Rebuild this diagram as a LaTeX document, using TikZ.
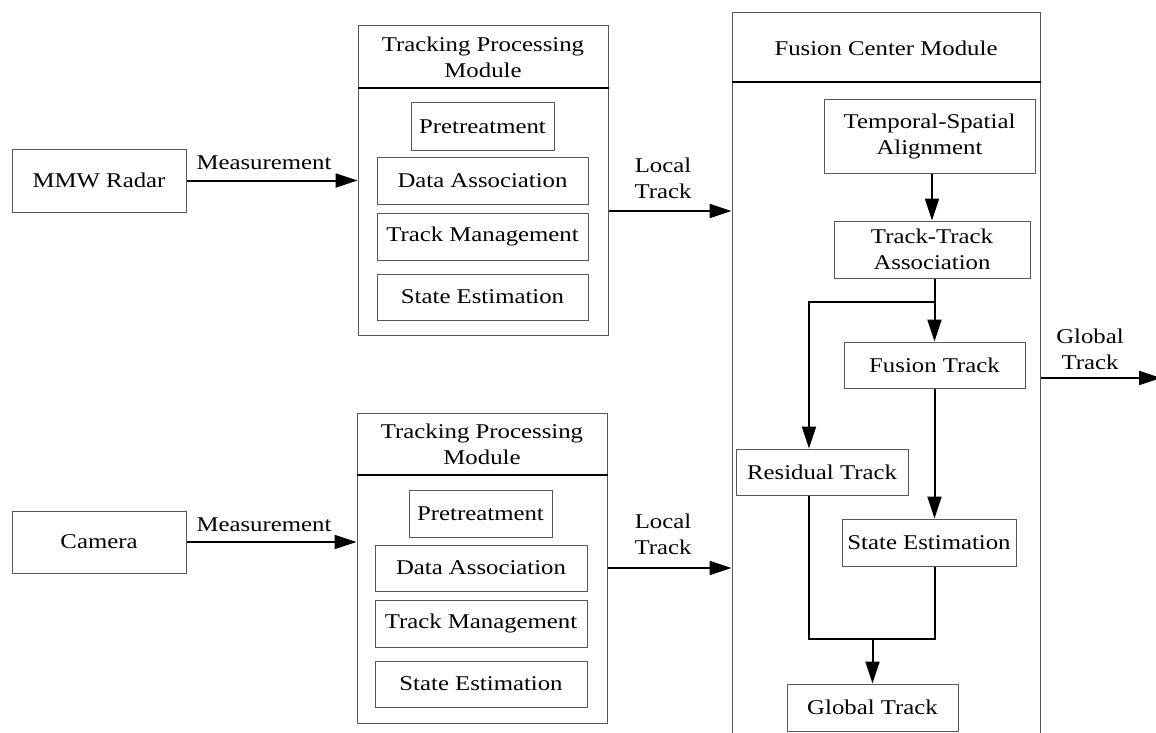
\documentclass[tikz,border=0pt]{standalone}
\usepackage{fontspec}
\setmainfont[FakeStretch=1.18]{Liberation Serif}
\usetikzlibrary{arrows.meta}
\begin{document}
\begin{tikzpicture}[x=1pt,y=-1pt,
  every node/.style={font=\fontsize{21pt}{26pt}\selectfont, inner sep=0pt, align=center},
  box/.style={draw=black!65, line width=1pt, rectangle},
  sep/.style={draw=black, line width=1.8pt},
  conn/.style={draw=black, line width=2pt},
  arr/.style={draw=black, line width=2pt, -{Triangle[length=22pt,width=14pt]}}
]
\clip (0,0) rectangle (1156,733);
% sensors
\node[box, minimum width=174pt, minimum height=63pt] (radar) at (99,180.5) {MMW Radar};
\node[box, minimum width=174pt, minimum height=62pt] (camera) at (99,542) {Camera};
% tracking module 1
\node[box, minimum width=250pt, minimum height=309pt] (tpm1) at (483,180.5) {};
\node (tpm1t) at (483,57) {Tracking Processing\\Module};
\coordinate (h1) at (483,88);
\draw[sep] (tpm1.west |- h1) -- (tpm1.east |- h1);
\node[box, minimum width=143pt, minimum height=47pt] (pre1) at (482.5,126.5) {Pretreatment};
\node[box, minimum width=211pt, minimum height=47pt] (da1) at (482.5,180.5) {Data Association};
\node[box, minimum width=211pt, minimum height=47pt] (tm1) at (482.5,236.5) {Track Management};
\node[box, minimum width=211pt, minimum height=46pt] (se1) at (482.5,297) {State Estimation};
% tracking module 2
\node[box, minimum width=250pt, minimum height=310pt] (tpm2) at (482,568) {};
\node (tpm2t) at (482,444) {Tracking Processing\\Module};
\coordinate (h2) at (482,475);
\draw[sep] (tpm2.west |- h2) -- (tpm2.east |- h2);
\node[box, minimum width=143pt, minimum height=47pt] (pre2) at (480.5,513.5) {Pretreatment};
\node[box, minimum width=212pt, minimum height=46pt] (da2) at (481,568) {Data Association};
\node[box, minimum width=212pt, minimum height=47pt] (tm2) at (481,623.5) {Track Management};
\node[box, minimum width=212pt, minimum height=46pt] (se2) at (481,684) {State Estimation};
% fusion center
\node[box, minimum width=308pt, minimum height=760pt] (fus) at (886,393) {};
\node (fust) at (886,48) {Fusion Center Module};
\coordinate (h3) at (886,82);
\draw[sep] (fus.west |- h3) -- (fus.east |- h3);
\node[box, minimum width=211pt, minimum height=73pt] (ts) at (929.5,136.5) {Temporal-Spatial\\Alignment};
\node[box, minimum width=196pt, minimum height=57pt] (tta) at (932,249.5) {Track-Track\\Association};
\node[box, minimum width=181pt, minimum height=46pt] (ft) at (934.5,365) {Fusion Track};
\node[box, minimum width=172pt, minimum height=46pt] (rt) at (822,472) {Residual Track};
\node[box, minimum width=174pt, minimum height=47pt] (se) at (929,542.5) {State Estimation};
\node[box, minimum width=171pt, minimum height=47pt] (gt) at (872.5,707.5) {Global Track};
% input connectors
\draw[arr] (radar.east) -- (radar.east -| tpm1.west);
\node (m1) at (264,163) {Measurement};
\draw[arr] (camera.east) -- (camera.east -| tpm2.west);
\node (m2) at (264,525) {Measurement};
\draw[arr] ([yshift=-30.5pt]tpm1.east) -- ([yshift=-30.5pt]tpm1.east -| fus.west);
\node (lt1) at (663,178) {Local\\Track};
\draw[arr] (tpm2.east) -- (tpm2.east -| fus.west);
\node (lt2) at (663,534) {Local\\Track};
% fusion internal
\draw[arr] (tta.north |- ts.south) -- (tta.north);
\draw[arr] (ft.north |- tta.south) -- (ft.north);
\coordinate (br) at (ft.north |- 0,302);
\draw[arr] (br) -| ([xshift=-13pt]rt.north);
\draw[arr] (ft.south) -- (ft.south |- se.north);
\coordinate (j) at (gt.north |- 0,639);
\draw[conn] ([xshift=-13pt]rt.south) |- (j);
\draw[conn] (ft.south |- se.south) |- (j);
\draw[arr] (j) -- (gt.north);
% output
\coordinate (gout) at (1161,378);
\draw[arr] (fus.east |- gout) -- (gout);
\node (glt) at (1090,349) {Global\\Track};
\end{tikzpicture}
\end{document}
